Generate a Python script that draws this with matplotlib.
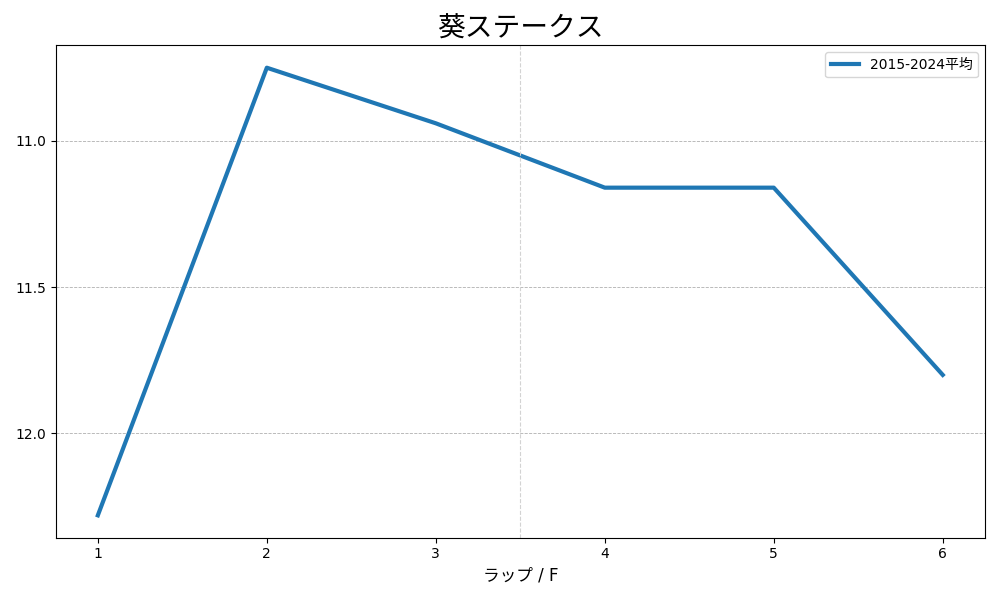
import matplotlib.pyplot as plt

plt.rcParams['font.family'] = ['DejaVu Sans', 'Noto Sans CJK JP']

# Data
laps = [1, 2, 3, 4, 5, 6]
avg_times = [12.28, 10.75, 10.94, 11.16, 11.16, 11.80]
series_label = '2015-2024平均'

fig, ax = plt.subplots(figsize=(10, 6), dpi=100)
ax.plot(laps, avg_times, color='#1f77b4', linewidth=3, label=series_label)
ax.axvline(3.5, color='lightgrey', linestyle='--', linewidth=0.8)
ax.grid(axis='y', color='#b0b0b0', linestyle='--', linewidth=0.6)
ax.set_yticks([11.0, 11.5, 12.0])
ax.set_xticks(laps)
ax.invert_yaxis()
ax.set_xlabel('ラップ / F', fontsize=12)
ax.set_title('葵ステークス', fontsize=20)
ax.legend(loc='upper right')
fig.tight_layout()
fig.savefig('out.png')
plt.close()
